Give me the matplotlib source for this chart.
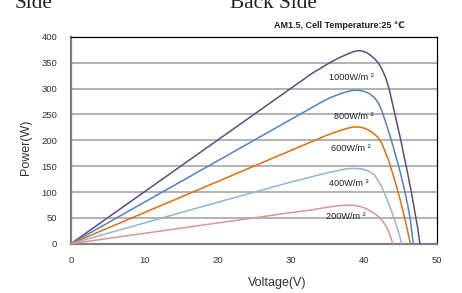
import matplotlib
matplotlib.use("Agg")
import matplotlib.pyplot as plt

plt.rcParams['font.family'] = ['Liberation Sans', 'DejaVu Sans']

# P-V curves (voltage in V, power in W)
v_1000 = [0, 10, 20, 30, 33, 35, 36, 37, 38, 38.5, 39, 39.5, 40, 40.5, 41, 41.5, 42, 42.5, 43,
          43.5, 44, 44.5, 45, 45.5, 46, 46.5, 47, 47.4, 47.7]
p_1000 = [0, 100, 200, 300, 330, 347, 355, 362, 368, 371, 373, 373.5, 372, 369, 364, 358, 350, 338, 322,
          299, 268, 237, 206, 172, 138, 102, 62, 30, 0]

v_800 = [0, 10, 20, 30, 34, 35.5, 37, 38, 38.5, 39, 39.5, 40, 40.5, 41, 41.5, 42, 42.5, 43,
         43.5, 44, 44.5, 45, 45.5, 46, 46.4, 46.8]
p_800 = [0, 80, 160, 240, 272, 283, 291, 295, 296.5, 297, 296.5, 295, 292.5, 288.5, 282, 273, 257, 236,
         214, 190, 165, 139, 110, 77, 45, 0]

v_600 = [0, 10, 20, 30, 35, 36, 37, 38, 38.5, 39, 39.5, 40, 40.5, 41, 41.5, 42, 42.5, 43,
         43.5, 44, 44.5, 45, 45.5, 46, 46.4]
p_600 = [0, 60, 120, 180, 210, 215, 220, 224, 225.5, 226, 225.5, 224, 221, 217, 212, 205, 194, 176,
         158, 135, 111, 85, 56, 26, 0]

v_400 = [0, 10, 20, 30, 35, 36, 37, 37.5, 38, 38.5, 39, 39.5, 40, 40.5, 41, 41.5, 42, 42.5,
         43, 43.5, 44, 44.5, 44.9, 45.2]
p_400 = [0, 40, 80, 119, 137, 140, 143, 144.5, 145.2, 145.6, 145.6, 145, 144, 141.5, 138, 132.5, 122, 109,
         93, 75, 56, 35, 16, 0]

v_200 = [0, 10, 20, 30, 33, 35, 36, 36.5, 37, 37.5, 38, 38.5, 39, 39.5, 40, 40.5, 41, 41.5,
         42, 42.5, 43, 43.5, 44]
p_200 = [0, 20, 40, 60, 65.5, 70.5, 72.5, 73.3, 74, 74.4, 74.5, 74.2, 73.5, 72, 70, 66.5, 62.5, 58,
         53, 46, 35.5, 21, 0]

labels = ['1000W/m ²', '800W/m ²', '600W/m ²', '400W/m ²', '200W/m ²']
colors = ['#5f4a86', '#4a84cc', '#e46c0a', '#93b3da', '#d99694']
# where the irradiance labels sit (V, W)
label_pos = [(38.3, 322), (38.6, 247), (38.3, 184), (38.0, 117), (37.6, 52)]

curves = [(v_1000, p_1000), (v_800, p_800), (v_600, p_600), (v_400, p_400), (v_200, p_200)]

fig = plt.figure(figsize=(4.62, 2.93), dpi=100)
ax = fig.add_axes([0.1537, 0.1683, 0.7916, 0.7055])

for (v, p), c in zip(curves, colors):
    ax.plot(v, p, color=c, linewidth=1.1, zorder=3, solid_joinstyle='round')

for lab, (x, y) in zip(labels, label_pos):
    ax.text(x, y, lab, fontsize=6.6, ha='center', va='center', color='#222222', zorder=4)

ax.set_xlim(0, 50)
ax.set_ylim(0, 400)
ax.set_xticks(range(0, 51, 10))
ax.set_yticks(range(0, 401, 50))
ax.yaxis.grid(True, color='#a6a6a6', linewidth=1.2)
ax.set_axisbelow(True)
ax.tick_params(length=0, labelsize=6.8, labelcolor='#333333')
ax.tick_params(axis='x', pad=9)
ax.tick_params(axis='y', pad=10)

for s in ['left', 'bottom']:
    ax.spines[s].set_color('#808080')
    ax.spines[s].set_linewidth(1.6)
for s in ['top', 'right']:
    ax.spines[s].set_color('black')
    ax.spines[s].set_linewidth(0.9)

fig.text(277 / 462, 1 - 283 / 293, 'Voltage(V)', fontsize=9, ha='center', va='center', color='#333333')
fig.text(26 / 462, 1 - 147 / 293, 'Power(W)', fontsize=9, ha='center', va='center',
         rotation=90, color='#333333')

fig.text(405 / 462, 1 - 25 / 293, 'AM1.5, Cell Temperature:25 ℃', fontsize=6.5,
         fontweight='bold', ha='right', va='center', color='#222222')

fig.text(15 / 462, 1 - 8.3 / 293, 'Side', fontsize=15.3, family='Liberation Serif',
         ha='left', va='baseline', color='#222222')
fig.text(230 / 462, 1 - 8.3 / 293, 'Back Side', fontsize=15.3, family='Liberation Serif',
         ha='left', va='baseline', color='#222222')

fig.savefig('out.png', dpi=100)
